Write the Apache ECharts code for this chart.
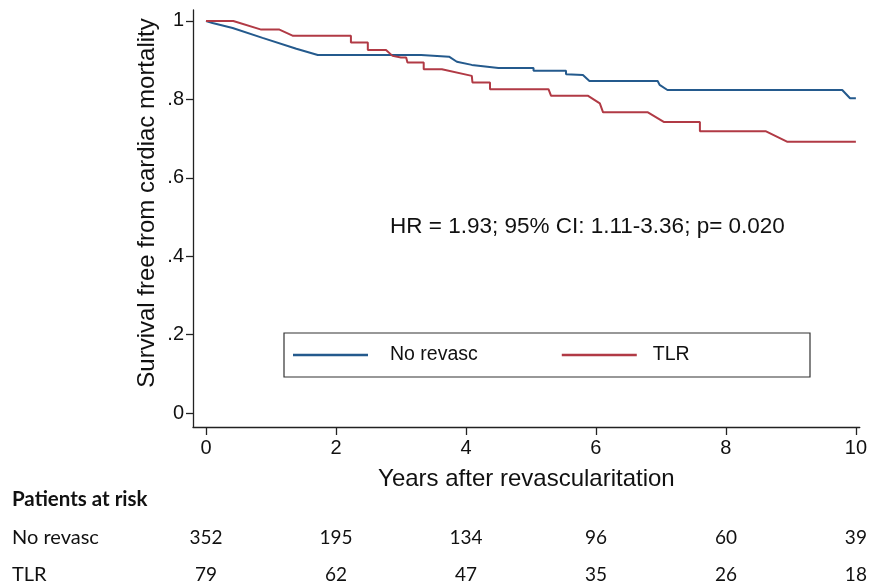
<!DOCTYPE html>
<html><head><meta charset="utf-8">
<script src="https://cdn.jsdelivr.net/npm/echarts@6/dist/echarts.min.js"></script>
<style>html,body{margin:0;padding:0;background:#fff}#c{width:870px;height:587px}</style>
</head><body><div id="c"></div>
<script>
// ---- data ----
const xTicks = [0, 2, 4, 6, 8, 10];
const yTicks = [0, 0.2, 0.4, 0.6, 0.8, 1];
const yTickLabels = ['0', '.2', '.4', '.6', '.8', '1'];

const noRevascTime = [0, 0.1, 0.41, 0.87, 1.39, 1.72, 3.31, 3.31, 3.74, 3.86, 4.09, 4.5, 5.04, 5.04, 5.54, 5.54, 5.8, 5.9, 6.95, 6.98, 7.1, 9.79, 9.91, 10.0];
const noRevascSurv = [1.0, 0.995, 0.982, 0.957, 0.929, 0.913, 0.913, 0.909, 0.909, 0.896, 0.888, 0.880, 0.880, 0.873, 0.873, 0.864, 0.862, 0.847, 0.847, 0.837, 0.824, 0.824, 0.803, 0.803];

const tlrTime = [0, 0.42, 0.85, 1.13, 1.34, 2.23, 2.23, 2.49, 2.49, 2.77, 2.87, 3.0, 3.08, 3.1, 3.35, 3.35, 3.63, 4.09, 4.1, 4.37, 4.37, 5.27, 5.31, 5.88, 6.06, 6.11, 6.8, 7.05, 7.6, 7.6, 8.61, 8.94, 10.0];
const tlrSurv = [1.0, 1.0, 0.978, 0.978, 0.962, 0.962, 0.945, 0.945, 0.926, 0.926, 0.911, 0.907, 0.907, 0.894, 0.894, 0.877, 0.877, 0.860, 0.843, 0.843, 0.826, 0.826, 0.809, 0.809, 0.790, 0.767, 0.767, 0.742, 0.742, 0.719, 0.719, 0.692, 0.692];

const seriesNames = ['No revasc', 'TLR'];
const riskTimes = [0, 2, 4, 6, 8, 10];
const riskNoRevasc = [352, 195, 134, 96, 60, 39];
const riskTLR = [79, 62, 47, 35, 26, 18];
const annotation = 'HR = 1.93; 95% CI: 1.11-3.36; p= 0.020';
const xTitle = 'Years after revascularitation';
const yTitle = 'Survival free from cardiac mortality';
const riskTitle = 'Patients at risk';

// ---- build ----
const zip = (a, b) => a.map((v, i) => [v, b[i]]);
const lookup = (keys, vals) => v => { const i = keys.findIndex(k => Math.abs(k - v) < 1e-6); return i < 0 ? '' : String(vals[i]); };
const BLUE = '#245a8d', RED = '#b13a45';
const SANS = '"Liberation Sans", Arial, sans-serif';
const CAL = 'Lato, "Open Sans", sans-serif';
const XMIN = -0.2, XMAX = 10.06, YMIN = -0.0357, YMAX = 1.028;

const riskAxis = (offset, vals) => ({
  type: 'value', min: XMIN, max: XMAX, position: 'bottom', offset: offset,
  axisLine: { show: false, onZero: false }, axisTick: { show: false }, splitLine: { show: false },
  axisLabel: { customValues: riskTimes, formatter: lookup(riskTimes, vals), margin: 0,
    verticalAlign: 'middle', fontFamily: CAL, fontSize: 19, color: '#111' }
});

const chart = echarts.init(document.getElementById('c'), null, { renderer: 'canvas' });
chart.setOption({
  backgroundColor: '#fff',
  animation: false,
  grid: { left: 193, right: 870 - 863, top: 10, bottom: 587 - 427, containLabel: false },
  xAxis: [{
    type: 'value', min: XMIN, max: XMAX,
    axisLine: { show: true, onZero: false, lineStyle: { color: '#222', width: 1.3 } },
    axisTick: { show: true, customValues: xTicks, length: 8, lineStyle: { color: '#222', width: 1.3 } },
    axisLabel: { customValues: xTicks, formatter: v => String(Math.round(v)), margin: 11,
      fontFamily: SANS, fontSize: 20, color: '#111' },
    splitLine: { show: false },
    name: xTitle, nameLocation: 'middle', nameGap: 40,
    nameTextStyle: { fontFamily: SANS, fontSize: 24, color: '#111' }
  }, riskAxis(111, riskNoRevasc), riskAxis(148, riskTLR)],
  yAxis: {
    type: 'value', min: YMIN, max: YMAX,
    axisLine: { show: true, onZero: false, lineStyle: { color: '#222', width: 1.3 } },
    axisTick: { show: true, customValues: yTicks, length: 7, lineStyle: { color: '#222', width: 1.3 } },
    axisLabel: { customValues: yTicks, formatter: lookup(yTicks, yTickLabels), margin: 9,
      fontFamily: SANS, fontSize: 20, color: '#111' },
    splitLine: { show: false }
  },
  legend: {
    data: [
      { name: seriesNames[0] },
      { name: seriesNames[1], textStyle: { padding: [0, 0, 0, 11] } }
    ],
    left: 293, top: 345, padding: 0, itemGap: 84,
    itemWidth: 75, itemHeight: 2.5, icon: 'rect',
    textStyle: { fontFamily: SANS, fontSize: 19.5, color: '#111', padding: [0, 0, 0, 17] }
  },
  series: [
    { name: seriesNames[0], type: 'line', data: zip(noRevascTime, noRevascSurv), showSymbol: false,
      lineStyle: { color: BLUE, width: 2 }, itemStyle: { color: BLUE } },
    { name: seriesNames[1], type: 'line', data: zip(tlrTime, tlrSurv), showSymbol: false,
      lineStyle: { color: RED, width: 2 }, itemStyle: { color: RED } }
  ],
  graphic: [
    { type: 'rect', shape: { x: 284, y: 333, width: 526, height: 44 }, silent: true,
      style: { fill: 'none', stroke: '#333', lineWidth: 1.2 } },
    { type: 'text', x: 147, y: 203, rotation: Math.PI / 2, silent: true,
      style: { text: yTitle, fontFamily: SANS, fontSize: 24, fill: '#111', align: 'center', verticalAlign: 'middle' } },
    { type: 'text', x: 390, y: 227, silent: true,
      style: { text: annotation, fontFamily: SANS, fontSize: 22.5, fill: '#111', verticalAlign: 'middle' } },
    { type: 'text', x: 12, y: 499, silent: true,
      style: { text: riskTitle, fontFamily: CAL, fontWeight: 'bold', fontSize: 20.5, fill: '#111', verticalAlign: 'middle' } },
    { type: 'text', x: 12, y: 538, silent: true,
      style: { text: seriesNames[0], fontFamily: CAL, fontSize: 20, fill: '#111', verticalAlign: 'middle' } },
    { type: 'text', x: 12, y: 575, silent: true,
      style: { text: seriesNames[1], fontFamily: CAL, fontSize: 20, fill: '#111', verticalAlign: 'middle' } }
  ]
});
</script></body></html>
